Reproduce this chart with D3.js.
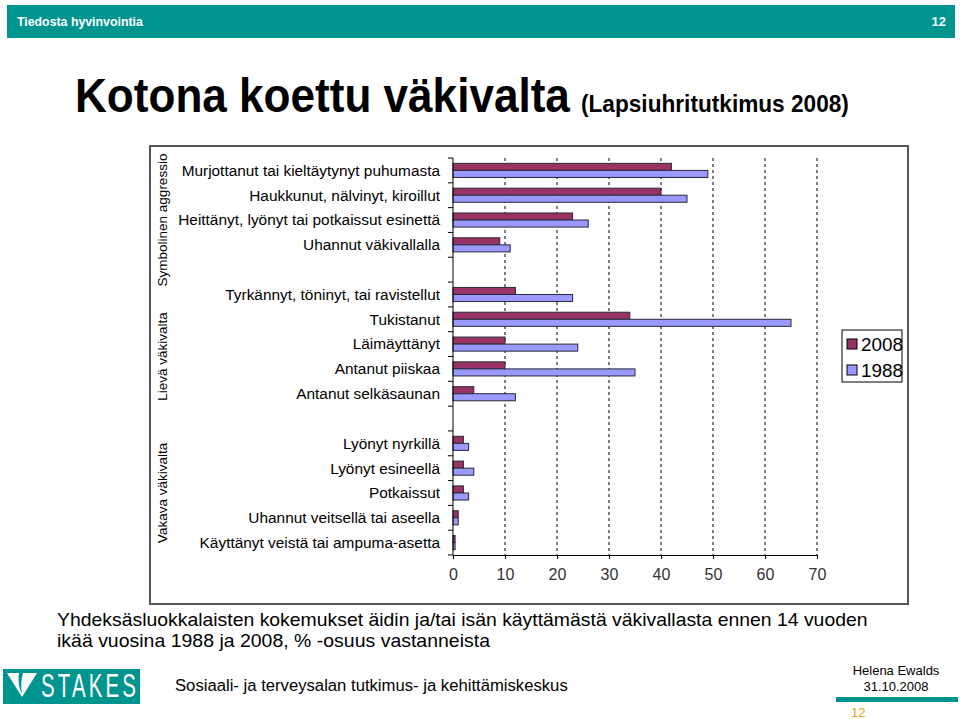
<!DOCTYPE html>
<html>
<head>
<meta charset="utf-8">
<script src="https://cdn.jsdelivr.net/npm/d3@7"></script>
<style>
  body { margin: 0; background: #fff; }
  svg { display: block; font-family: "Liberation Sans", Arial, sans-serif; }
</style>
</head>
<body>
<div id="chart"></div>
<script>
// categories, top to bottom; empty strings are the spacer rows between groups
const categories = [
  'Murjottanut tai kieltäytynyt puhumasta',
  'Haukkunut, nälvinyt, kiroillut',
  'Heittänyt, lyönyt tai potkaissut esinettä',
  'Uhannut väkivallalla',
  '',
  'Tyrkännyt, töninyt, tai ravistellut',
  'Tukistanut',
  'Läimäyttänyt',
  'Antanut piiskaa',
  'Antanut selkäsaunan',
  '',
  'Lyönyt nyrkillä',
  'Lyönyt esineellä',
  'Potkaissut',
  'Uhannut veitsellä tai aseella',
  'Käyttänyt veistä tai ampuma-asetta',
];
const values2008 = [42, 40, 23, 9, null, 12, 34, 10, 10, 4, null, 2, 2, 2, 1, 0.4];
const values1988 = [49, 45, 26, 11, null, 23, 65, 24, 35, 12, null, 3, 4, 3, 1, 0.4];
const seriesNames = ['2008', '1988'];
const xTicks = [0, 10, 20, 30, 40, 50, 60, 70];
const groups = [
  { name: 'Symbolinen aggressio', first: 0, last: 4 },
  { name: 'Lievä väkivalta', first: 5, last: 10 },
  { name: 'Vakava väkivalta', first: 11, last: 15 },
];

const COLORS = { '2008': '#993366', '1988': '#9999ff' };
const TEAL = '#00948f';

const W = 960, H = 719;
const svg = d3.select('#chart').append('svg')
  .attr('width', W).attr('height', H)
  .attr('viewBox', [0, 0, W, H]);

// squeeze or stretch a text horizontally so it spans `width` px
function fitText(sel, x0, y0, width) {
  const natural = sel.node().getComputedTextLength();
  sel.attr('x', 0).attr('y', 0)
    .attr('transform', `translate(${x0},${y0}) scale(${width / natural},1)`);
  return sel;
}

// header bar
svg.append('rect')
  .attr('x', 7).attr('y', 5).attr('width', 948).attr('height', 33)
  .attr('fill', TEAL);
fitText(svg.append('text')
  .attr('fill', '#fff').attr('font-size', 13).attr('font-weight', 'bold')
  .text('Tiedosta hyvinvointia'), 17, 26, 126);
svg.append('text')
  .attr('x', 946).attr('y', 26).attr('text-anchor', 'end')
  .attr('fill', '#fff').attr('font-size', 13).attr('font-weight', 'bold')
  .text('12');

// title
fitText(svg.append('text')
  .attr('font-size', 48).attr('font-weight', 'bold').attr('fill', '#000')
  .text('Kotona koettu väkivalta'), 75, 112, 495);
fitText(svg.append('text')
  .attr('font-size', 23).attr('font-weight', 'bold').attr('fill', '#000')
  .text('(Lapsiuhritutkimus 2008)'), 581, 112, 268);

// chart frame
svg.append('rect')
  .attr('x', 150).attr('y', 146).attr('width', 758).attr('height', 458)
  .attr('fill', '#fff').attr('stroke', '#555').attr('stroke-width', 2);

const x = d3.scaleLinear().domain([0, 70]).range([453, 817]);
const y = d3.scaleBand().domain(d3.range(categories.length)).range([158, 555]);
const ySub = d3.scaleBand().domain(seriesNames).range([0, y.bandwidth()])
  .paddingInner(0).paddingOuter(0.76);

const plotTop = y.range()[0], plotBottom = y.range()[1];

// dashed gridlines
svg.append('g')
  .selectAll('line')
  .data(xTicks.filter(d => d > 0))
  .join('line')
  .attr('x1', d => x(d)).attr('x2', d => x(d))
  .attr('y1', plotTop).attr('y2', plotBottom)
  .attr('stroke', '#000').attr('stroke-width', 1)
  .attr('stroke-dasharray', '3,3');

// bars
const rows = categories.map((c, i) => ({ i, c, '2008': values2008[i], '1988': values1988[i] }));
const barData = rows.flatMap(r => seriesNames
  .filter(s => r[s] != null)
  .map(s => ({ i: r.i, series: s, value: r[s] })));

svg.append('g')
  .selectAll('rect')
  .data(barData)
  .join('rect')
  .attr('x', x(0))
  .attr('y', d => y(d.i) + ySub(d.series))
  .attr('width', d => x(d.value) - x(0))
  .attr('height', ySub.bandwidth())
  .attr('fill', d => COLORS[d.series])
  .attr('stroke', '#2a2a3a').attr('stroke-width', 1);

// x axis
const xAxis = svg.append('g')
  .attr('transform', `translate(0,${plotBottom})`)
  .call(d3.axisBottom(x).tickValues(xTicks).tickSize(4).tickPadding(10));
xAxis.select('.domain').attr('stroke', '#000');
xAxis.selectAll('.tick line').attr('stroke', '#000');
xAxis.selectAll('.tick text')
  .attr('font-size', 16).attr('fill', '#333')
  .attr('font-family', '"Liberation Sans", Arial, sans-serif');

// y axis with ticks at band boundaries
const boundaries = d3.range(categories.length + 1).map(i => plotTop + i * y.step());
svg.append('line')
  .attr('x1', x(0)).attr('x2', x(0))
  .attr('y1', plotTop).attr('y2', plotBottom)
  .attr('stroke', '#000');
svg.append('g')
  .selectAll('line')
  .data(boundaries)
  .join('line')
  .attr('x1', x(0) - 5).attr('x2', x(0))
  .attr('y1', d => d).attr('y2', d => d)
  .attr('stroke', '#000');

// category labels
svg.append('g')
  .selectAll('text')
  .data(rows.filter(r => r.c))
  .join('text')
  .attr('x', 440)
  .attr('y', d => y(d.i) + y.bandwidth() / 2)
  .attr('dy', '0.35em')
  .attr('text-anchor', 'end')
  .attr('font-size', 15.4).attr('fill', '#000')
  .text(d => d.c);

// group labels (rotated)
svg.append('g')
  .selectAll('text')
  .data(groups)
  .join('text')
  .attr('transform', d => {
    const cy = (y(d.first) + y(d.last) + y.bandwidth()) / 2;
    return `translate(167,${cy}) rotate(-90)`;
  })
  .attr('text-anchor', 'middle')
  .attr('font-size', 13.5).attr('fill', '#000')
  .text(d => d.name);

// legend
const legend = svg.append('g').attr('transform', 'translate(842,330)');
legend.append('rect')
  .attr('width', 60).attr('height', 52)
  .attr('fill', '#fff').attr('stroke', '#000').attr('stroke-width', 1);
const legendItem = legend.selectAll('g.item')
  .data(seriesNames)
  .join('g')
  .attr('class', 'item')
  .attr('transform', (d, i) => `translate(5,${14 + i * 26})`);
legendItem.append('rect')
  .attr('x', 0).attr('y', -5).attr('width', 10).attr('height', 10)
  .attr('fill', d => COLORS[d]).attr('stroke', '#000');
legendItem.append('text')
  .attr('x', 14).attr('dy', '0.36em')
  .attr('font-size', 19).attr('fill', '#000')
  .attr('textLength', 42).attr('lengthAdjust', 'spacingAndGlyphs')
  .text(d => d);

// caption
const caption = [
  'Yhdeksäsluokkalaisten kokemukset äidin ja/tai isän käyttämästä väkivallasta ennen 14 vuoden',
  'ikää vuosina 1988 ja 2008, % -osuus vastanneista',
];
const captionWidths = [811, 433];
caption.forEach((line, i) => {
  fitText(svg.append('text')
    .attr('font-size', 18).attr('fill', '#000')
    .text(line), 57, 625.5 + i * 21, captionWidths[i]);
});

// footer: logo
svg.append('rect')
  .attr('x', 3).attr('y', 669).attr('width', 137).attr('height', 35)
  .attr('fill', TEAL);
svg.append('path')
  .attr('d', 'M7,673 L37,673 L22,697 Z')
  .attr('fill', '#fff');
svg.append('path')
  .attr('d', 'M19,673 L23,673 Q20,683 22,694 Q17,684 19,673 Z')
  .attr('fill', TEAL);
svg.append('text')
  .attr('transform', 'translate(41,697) scale(0.62,1)')
  .attr('font-size', 33).attr('fill', '#fff')
  .attr('textLength', 153).attr('lengthAdjust', 'spacing')
  .text('STAKES');

fitText(svg.append('text')
  .attr('font-size', 17).attr('fill', '#000')
  .text('Sosiaali- ja terveysalan tutkimus- ja kehittämiskeskus'), 175, 691, 393);

svg.append('text')
  .attr('x', 896).attr('y', 675).attr('text-anchor', 'middle')
  .attr('font-size', 13).attr('fill', '#000')
  .text('Helena Ewalds');
svg.append('text')
  .attr('x', 896).attr('y', 691).attr('text-anchor', 'middle')
  .attr('font-size', 13).attr('fill', '#000')
  .text('31.10.2008');
svg.append('rect')
  .attr('x', 836).attr('y', 697).attr('width', 122).attr('height', 5)
  .attr('fill', TEAL);
svg.append('text')
  .attr('x', 851).attr('y', 717)
  .attr('font-size', 13).attr('fill', '#e0a030')
  .text('12');
</script>
</body>
</html>
